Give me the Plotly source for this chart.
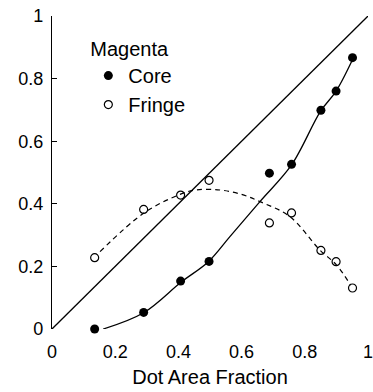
import plotly.graph_objects as go

# Data points
dot_area = [0.135, 0.29, 0.407, 0.497, 0.688, 0.758, 0.851, 0.899, 0.951]
core = [0.0, 0.053, 0.153, 0.216, 0.498, 0.526, 0.699, 0.760, 0.867]
fringe = [0.228, 0.382, 0.428, 0.475, 0.339, 0.371, 0.251, 0.215, 0.131]

# Fitted curves
core_fit_x = [0.162, 0.29, 0.41, 0.495, 0.563, 0.658, 0.758, 0.85, 0.899, 0.953]
core_fit_y = [0.0, 0.052, 0.151, 0.215, 0.295, 0.407, 0.524, 0.696, 0.760, 0.865]
fringe_fit_x = [0.152, 0.29, 0.40, 0.453, 0.532, 0.60, 0.658, 0.753, 0.848, 0.90, 0.945]
fringe_fit_y = [0.247, 0.37, 0.428, 0.444, 0.444, 0.43, 0.407, 0.359, 0.252, 0.205, 0.14]

# Identity line
diag_x = [0, 1]
diag_y = [0, 1]

x_ticks = [0, 0.2, 0.4, 0.6, 0.8, 1]
y_ticks = [0, 0.2, 0.4, 0.6, 0.8, 1]
x_labels = ["0", "0.2", "0.4", "0.6", "0.8", "1"]
y_labels = ["0", "0.2", "0.4", "0.6", "0.8", "1"]

FONT = "Liberation Sans, Arial, Helvetica, sans-serif"

fig = go.Figure()
fig.add_trace(go.Scatter(x=diag_x, y=diag_y, mode="lines",
                         line=dict(color="black", width=1.3), showlegend=False,
                         cliponaxis=False))
fig.add_trace(go.Scatter(x=core_fit_x, y=core_fit_y, mode="lines",
                         line=dict(color="black", width=1.3, shape="spline"),
                         showlegend=False, cliponaxis=False))
fig.add_trace(go.Scatter(x=fringe_fit_x, y=fringe_fit_y, mode="lines",
                         line=dict(color="black", width=1.2, shape="spline", dash="5px,4px"),
                         showlegend=False, cliponaxis=False))
fig.add_trace(go.Scatter(x=dot_area, y=core, mode="markers", name="Core",
                         marker=dict(symbol="circle", size=9, color="black",
                                     line=dict(width=0)),
                         cliponaxis=False))
fig.add_trace(go.Scatter(x=dot_area, y=fringe, mode="markers", name="Fringe",
                         marker=dict(symbol="circle-open", size=8, color="black",
                                     line=dict(width=1.2)),
                         cliponaxis=False))

fig.update_layout(
    width=373, height=392,
    margin=dict(l=52, r=5, t=16, b=63, autoexpand=False),
    paper_bgcolor="white", plot_bgcolor="white",
    font=dict(family=FONT, size=18, color="black"),
    showlegend=True,
    legend=dict(
        title=dict(text="Magenta", font=dict(size=20)),
        x=0.115, y=0.955, xanchor="left", yanchor="top",
        bgcolor="rgba(0,0,0,0)", font=dict(size=20),
        itemwidth=30, tracegroupgap=0,
    ),
    xaxis=dict(range=[0, 1], tickvals=x_ticks, ticktext=x_labels,
               showline=False, showgrid=False, zeroline=False, ticks="",
               ticklabelstandoff=10, ticklabeloverflow="allow", automargin=False,
               tickfont=dict(size=18),
               title=dict(text="Dot Area Fraction", font=dict(size=20), standoff=8)),
    yaxis=dict(range=[0, 1], tickvals=y_ticks, ticktext=y_labels,
               showline=True, linecolor="black", linewidth=1.2, showgrid=False,
               zeroline=False, ticks="inside", ticklen=5, tickcolor="black",
               tickwidth=1.2, ticklabelstandoff=4, tickfont=dict(size=18),
               automargin=False),
)

fig.write_html("out.html")
